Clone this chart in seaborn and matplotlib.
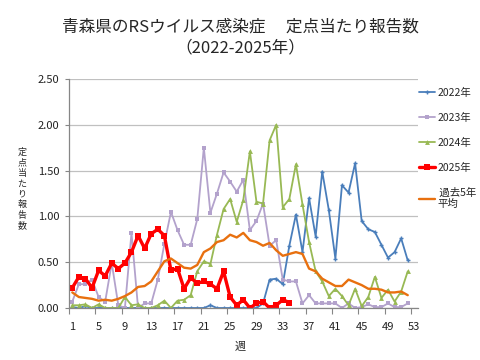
import numpy as np
import matplotlib
matplotlib.use("Agg")
import matplotlib.pyplot as plt
import seaborn as sns

# ---------------- data ----------------
weeks = list(range(1, 54))
week_ticks = list(range(1, 54, 4))

y2022 = [0.01, 0.00, 0.02, 0.00, 0.00, 0.00, 0.00, 0.00, 0.00, 0.00,
         0.00, 0.00, 0.00, 0.00, 0.00, 0.00, 0.00, 0.00, 0.00, 0.00,
         0.00, 0.03, 0.00, 0.00, 0.00, 0.00, 0.00, 0.00, 0.00, 0.05,
         0.31, 0.32, 0.26, 0.68, 1.02, 0.61, 1.20, 0.78, 1.49, 1.07,
         0.54, 1.34, 1.26, 1.58, 0.95, 0.86, 0.83, 0.69, 0.55, 0.61,
         0.76, 0.52]

y2023 = [0.07, 0.26, 0.26, 0.31, 0.12, 0.07, 0.49, 0.03, 0.00, 0.82,
         0.00, 0.05, 0.05, 0.31, 0.70, 1.05, 0.85, 0.69, 0.69, 0.97,
         1.75, 1.04, 1.25, 1.48, 1.38, 1.27, 1.40, 0.85, 0.95, 1.14,
         0.68, 0.74, 0.31, 0.29, 0.29, 0.05, 0.14, 0.05, 0.05, 0.05,
         0.05, 0.00, 0.05, 0.00, 0.01, 0.04, 0.01, 0.01, 0.05, 0.01,
         0.01, 0.05]

y2024 = [0.03, 0.03, 0.04, 0.00, 0.04, 0.00, 0.00, 0.00, 0.12, 0.03,
         0.04, 0.00, 0.00, 0.03, 0.08, 0.00, 0.08, 0.09, 0.14, 0.40,
         0.51, 0.48, 0.80, 1.08, 1.19, 0.94, 1.18, 1.71, 1.16, 1.14,
         1.83, 2.00, 1.10, 1.19, 1.57, 1.13, 0.72, 0.40, 0.29, 0.13,
         0.21, 0.13, 0.03, 0.21, 0.02, 0.12, 0.34, 0.11, 0.20, 0.07,
         0.18, 0.40]

y2025 = [0.22, 0.34, 0.32, 0.22, 0.41, 0.35, 0.49, 0.43, 0.49, 0.61,
         0.79, 0.65, 0.81, 0.86, 0.79, 0.41, 0.43, 0.21, 0.33, 0.27,
         0.29, 0.26, 0.21, 0.40, 0.12, 0.03, 0.09, 0.00, 0.05, 0.07,
         0.00, 0.03, 0.09, 0.06]

avg5 = [0.17, 0.12, 0.11, 0.10, 0.08, 0.09, 0.08, 0.10, 0.13, 0.17,
        0.23, 0.24, 0.29, 0.40, 0.51, 0.54, 0.49, 0.44, 0.43, 0.47,
        0.61, 0.65, 0.72, 0.74, 0.80, 0.77, 0.82, 0.74, 0.72, 0.68,
        0.71, 0.63, 0.57, 0.59, 0.61, 0.59, 0.43, 0.40, 0.32, 0.28,
        0.24, 0.24, 0.31, 0.28, 0.25, 0.21, 0.21, 0.20, 0.17, 0.17,
        0.18, 0.14]

labels = ["2022年", "2023年", "2024年", "2025年", " 過去5年\n平均"]
title1 = "青森県のRSウイルス感染症　 定点当たり報告数"
title2 = "（2022-2025年）"
ylabel = "定点当たり報告数"
xlabel = "週"

# ---------------- style ----------------
sns.set_style("white")
plt.rcParams["font.family"] = ["Noto Sans CJK JP", "DejaVu Sans"]
plt.rcParams["legend.numpoints"] = 1

fig = plt.figure(figsize=(4.8, 3.6), dpi=100)
ax = fig.add_axes([69 / 480, 1 - 308 / 360, (417.6 - 69) / 480, (308 - 79) / 360])

styles = [
    dict(color="#4A7EBB", marker="+", markersize=3.5, linewidth=1.3,
         markeredgewidth=1.0, markeredgecolor="#4A7EBB"),
    dict(color="#B3A2CC", marker="s", markersize=3.5, linewidth=1.3,
         markeredgewidth=0, markeredgecolor="#B3A2CC"),
    dict(color="#98B954", marker="^", markersize=3.5, linewidth=1.3,
         markeredgewidth=0, markeredgecolor="#98B954"),
    dict(color="#FF0000", marker="s", markersize=5, linewidth=2.4,
         markeredgewidth=0, markeredgecolor="#FF0000"),
    dict(color="#E8700F", linewidth=1.7),
]
series = [y2022, y2023, y2024, y2025, avg5]

for vals, lab, st in zip(series, labels, styles):
    sns.lineplot(x=weeks[:len(vals)], y=vals, ax=ax, label=lab, **st)

ax.set_xlim(0.5, 53.5)
ax.set_ylim(0, 2.5)
ax.set_xticks(week_ticks)
ax.set_xticklabels([str(w) for w in week_ticks])
ax.set_xticks(np.arange(0.5, 53, 4), minor=True)
ax.set_yticks(np.arange(0, 2.51, 0.5))
ax.set_yticklabels([f"{v:.2f}" for v in np.arange(0, 2.51, 0.5)])
ax.set_xlabel("")
ax.set_ylabel("")

ax.tick_params(axis="x", which="major", length=0, labelsize=8, pad=10, labelcolor="#222222")
ax.tick_params(axis="x", which="minor", length=4, width=0.8, color="#868686", direction="out", bottom=True)
ax.tick_params(axis="y", length=3, width=0.8, color="#868686", direction="out", labelsize=8, pad=4,
               left=True, labelcolor="#222222")

ax.yaxis.grid(True, color="#C0C0C0", linewidth=0.9)
ax.xaxis.grid(False)
ax.set_axisbelow(True)
for side in ["top", "right"]:
    ax.spines[side].set_visible(False)
for side in ["left", "bottom"]:
    ax.spines[side].set_color("#868686")
    ax.spines[side].set_linewidth(0.9)

leg = ax.legend(loc="upper left", bbox_to_anchor=(419 / 480, 1 - 88 / 360),
                bbox_transform=fig.transFigure, frameon=False, fontsize=7.5,
                handlelength=1.5, handletextpad=0.25, labelspacing=1.42,
                borderpad=0, borderaxespad=0)

fig.text(0.5, 1 - 27 / 360, title1, ha="center", va="center", fontsize=12)
fig.text(0.5, 1 - 48 / 360, title2, ha="center", va="center", fontsize=12)
fig.text(22 / 480, 1 - 189 / 360, "\n".join(ylabel), ha="center", va="center",
         fontsize=6.5, linespacing=1.2)
fig.text(240 / 480, 1 - 347 / 360, xlabel, ha="center", va="center", fontsize=8)

fig.savefig("out.png", dpi=100)
